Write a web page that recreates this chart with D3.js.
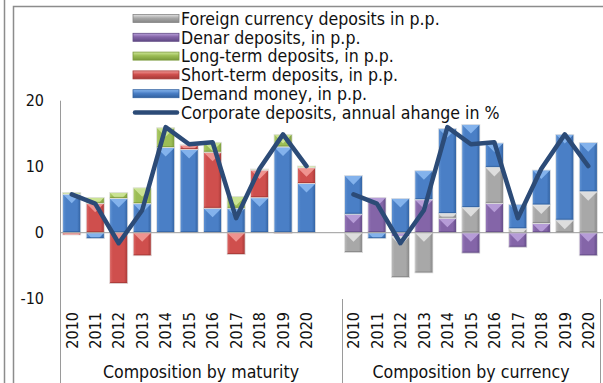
<!DOCTYPE html>
<html>
<head>
<meta charset="utf-8">
<script src="https://cdn.jsdelivr.net/npm/d3@7"></script>
<style>
  html, body { margin: 0; padding: 0; background: #fff; }
  svg { display: block; }
  text { font-family: "DejaVu Sans Condensed", "DejaVu Sans", sans-serif; fill: #111; }
</style>
</head>
<body>
<svg id="chart" width="603" height="383"></svg>
<script>
// Annual years shown in each panel
const years = ["2010","2011","2012","2013","2014","2015","2016","2017","2018","2019","2020"];

// Contributions in percentage points
const demandMoney = [5.85, -0.9, 5.2, 4.4, 12.9, 12.6, 3.7, 3.7, 5.3, 13.0, 7.45];
const shortTerm   = [-0.35, 4.45, -7.7, -3.5, 0, 0.7, 8.5, -3.3, 4.2, -0.1, 2.4];
const longTerm    = [0.25, 0.9, 0.9, 2.4, 3.0, 0.1, 1.5, 1.8, 0.15, 1.9, 0.25];
const denar       = [2.8, 5.35, -0.6, 5.0, 2.2, -3.1, 4.45, -2.2, 1.4, 0, -3.5];
const foreign     = [-3.0, 0, -6.2, -6.1, 0.7, 3.8, 5.45, 0.6, 2.8, 1.9, 6.2];

// Corporate deposits, annual change in %
const corporateChange = [5.8, 4.4, -1.6, 3.4, 16.0, 13.4, 13.7, 2.2, 9.7, 14.9, 10.1];

const yTicks = [20, 10, 0, -10];
const groupLabels = ["Composition by maturity", "Composition by currency"];

const legendItems = [
  { key: "foreign", label: "Foreign currency deposits in p.p." },
  { key: "denar",   label: "Denar deposits, in p.p." },
  { key: "long",    label: "Long-term deposits, in p.p." },
  { key: "short",   label: "Short-term deposits, in p.p." },
  { key: "demand",  label: "Demand money, in p.p." },
  { key: "line",    label: "Corporate deposits, annual ahange in %" }
];

const palette = {
  demand:  { base: "#4a7fc6", light: "#8ab8ef", dark: "#30609f" },
  short:   { base: "#cf4f4d", light: "#f29a97", dark: "#a53836" },
  long:    { base: "#9cbd55", light: "#cfe79a", dark: "#7a9a3b" },
  denar:   { base: "#8465a8", light: "#bba2dc", dark: "#614a85" },
  foreign: { base: "#a8a8a8", light: "#e2e2e2", dark: "#858585" }
};
const lineColor = "#2c4b77";
const textSize = 17.6;
const numSize = 16;

const svg = d3.select("#chart");
const defs = svg.append("defs");

// horizontal shading for each bar colour
Object.entries(palette).forEach(([k, c]) => {
  const g = defs.append("linearGradient").attr("id", "grad-" + k)
    .attr("x1", 0).attr("x2", 1).attr("y1", 0).attr("y2", 0);
  g.append("stop").attr("offset", "0%").attr("stop-color", d3.interpolateRgb(c.base, c.light)(0.35));
  g.append("stop").attr("offset", "18%").attr("stop-color", c.base);
  g.append("stop").attr("offset", "80%").attr("stop-color", c.base);
  g.append("stop").attr("offset", "100%").attr("stop-color", c.dark);
  const v = defs.append("linearGradient").attr("id", "vgrad-" + k)
    .attr("x1", 0).attr("x2", 0).attr("y1", 0).attr("y2", 1);
  v.append("stop").attr("offset", "0%").attr("stop-color", c.light);
  v.append("stop").attr("offset", "45%").attr("stop-color", c.base);
  v.append("stop").attr("offset", "100%").attr("stop-color", c.dark);
});

// outer frame
svg.append("line").attr("x1", 4.5).attr("x2", 4.5).attr("y1", 0).attr("y2", 383)
  .attr("stroke", "#8c8c8c").attr("stroke-width", 1.5);
svg.append("path").attr("d", "M13.5,383 V6.5 H603")
  .attr("fill", "none").attr("stroke", "#8c8c8c").attr("stroke-width", 1.5);

// category slots: 11 years, a spacer, then 11 years
const slots = years.map(y => "m" + y).concat(["gap"], years.map(y => "c" + y));
const x = d3.scaleBand().domain(slots).range([60, 600]).paddingInner(0.23).paddingOuter(0.115);
const y = d3.scaleLinear().domain([-10, 20]).range([298.7, 100.7]);

// y axis labels
svg.append("g").selectAll("text").data(yTicks).join("text")
  .attr("x", 44).attr("y", d => y(d)).attr("dy", "0.36em")
  .attr("text-anchor", "end").attr("font-size", numSize).text(d => d);

// axis lines
const axisColor = "#9a9a9a";
svg.append("line").attr("x1", 60.5).attr("x2", 60.5).attr("y1", y(20)).attr("y2", 383)
  .attr("stroke", axisColor);
[342, 600].forEach(px => {
  svg.append("line").attr("x1", px + 0.5).attr("x2", px + 0.5).attr("y1", 299).attr("y2", 383)
    .attr("stroke", axisColor);
});

// bevelled segment
function drawSegment(g, key, bx, y0, y1, w) {
  const top = Math.min(y0, y1), h = Math.abs(y1 - y0);
  if (h < 0.3) return;
  const c = palette[key];
  g.append("rect").attr("x", bx).attr("y", top).attr("width", w).attr("height", h)
    .attr("fill", `url(#grad-${key})`);
  const th = Math.min(w / 2, h);
  const frac = th / (w / 2);
  g.append("path")
    .attr("d", `M${bx},${top} H${bx + w} L${bx + w - frac * w / 2},${top + th} H${bx + frac * w / 2} Z`)
    .attr("fill", c.light).attr("opacity", 0.9);
  if (h > 4) {
    g.append("rect").attr("x", bx).attr("y", top + h - 1.5).attr("width", w).attr("height", 1.5)
      .attr("fill", c.dark).attr("opacity", 0.8);
  }
  g.append("rect").attr("x", bx).attr("y", top).attr("width", w).attr("height", h)
    .attr("fill", "none").attr("stroke", "#e4e4e4").attr("stroke-width", 0.8);
}

function drawPanel(prefix, series) {
  const rows = years.map((yr, i) => {
    const r = { slot: prefix + yr };
    series.forEach(s => r[s.key] = s.values[i]);
    return r;
  });
  const stack = d3.stack().keys(series.map(s => s.key)).offset(d3.stackOffsetDiverging);
  const layers = stack(rows);
  const g = svg.append("g");
  layers.forEach(layer => {
    layer.forEach(d => {
      drawSegment(g, layer.key, x(d.data.slot), y(d[0]), y(d[1]), x.bandwidth());
    });
  });
}

drawPanel("m", [
  { key: "demand", values: demandMoney },
  { key: "short",  values: shortTerm },
  { key: "long",   values: longTerm }
]);
drawPanel("c", [
  { key: "denar",   values: denar },
  { key: "foreign", values: foreign },
  { key: "demand",  values: demandMoney }
]);

// zero line
svg.append("line").attr("x1", 60).attr("x2", 603).attr("y1", y(0)).attr("y2", y(0))
  .attr("stroke", axisColor);

// annual change line, drawn separately per panel
const line = d3.line().x(d => x(d.slot) + x.bandwidth() / 2).y(d => y(d.v));
["m", "c"].forEach(p => {
  svg.append("path")
    .datum(years.map((yr, i) => ({ slot: p + yr, v: corporateChange[i] })))
    .attr("d", line).attr("fill", "none").attr("stroke", lineColor)
    .attr("stroke-width", 4.5).attr("stroke-linejoin", "round").attr("stroke-linecap", "round");
});

// year labels
["m", "c"].forEach(p => {
  svg.append("g").selectAll("text").data(years).join("text")
    .attr("transform", d => `translate(${x(p + d) + x.bandwidth() / 2},312) rotate(-90)`)
    .attr("text-anchor", "end").attr("dy", "0.36em").attr("font-size", numSize).text(d => d);
});

// group labels
svg.append("text").attr("x", 201).attr("y", 378).attr("text-anchor", "middle")
  .attr("font-size", textSize).text(groupLabels[0]);
svg.append("text").attr("x", 471).attr("y", 378).attr("text-anchor", "middle")
  .attr("font-size", textSize).text(groupLabels[1]);

// legend
const lg = svg.append("g");
legendItems.forEach((it, i) => {
  const cy = 18.5 + i * 18.8;
  if (it.key === "line") {
    lg.append("line").attr("x1", 135).attr("x2", 177).attr("y1", cy).attr("y2", cy)
      .attr("stroke", lineColor).attr("stroke-width", 4.5).attr("stroke-linecap", "round");
  } else {
    const c = palette[it.key];
    lg.append("rect").attr("x", 133).attr("y", cy - 4).attr("width", 46).attr("height", 8)
      .attr("fill", `url(#vgrad-${it.key})`).attr("stroke", c.dark).attr("stroke-width", 0.8);
  }
  lg.append("text").attr("x", 181).attr("y", cy).attr("dy", "0.36em")
    .attr("font-size", textSize).text(it.label);
});
</script>
</body>
</html>
